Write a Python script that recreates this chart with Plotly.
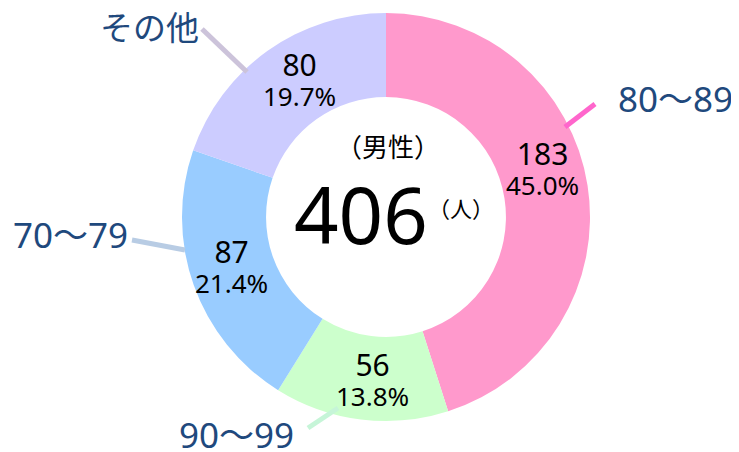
import math
import plotly.graph_objects as go

# ---- data ----
categories = ["80～89", "90～99", "70～79", "その他"]
counts = [183, 56, 87, 80]
pct_labels = ["45.0%", "13.8%", "21.4%", "19.7%"]
total_label = "406"
center_title = "（男性）"
center_unit = "（人）"

# ---- style ----
OFF = 8  # page body margin of the browser
W, H = 739 - OFF, 452 - OFF
CX, CY, R_OUT = 386, 217, 204
HOLE = 0.588
slice_colors = ["#FF99CC", "#CCFFCC", "#99CCFF", "#CCCCFF"]
line_colors = ["#FF66CC", "#C6F5D8", "#B8CCE4", "#CCC3DA"]
label_color = "#1F497D"
FONT = "Noto Sans, Noto Sans CJK JP, sans-serif"
FONT_JP = "Noto Sans CJK JP, sans-serif"

# angular tweak of inside label placement (degrees) and radius
inside_shift = [-8.5, -2.0, 2.0, 3.2]
R_TXT = 163
# outer label placement (page pixels) and leader lines (page pixels)
outer_label_pos = [(675, 98), (236, 434), (70, 234), (149, 28)]
outer_label_size = [35, 35, 35, 33]
leader_lines = [((565, 127), (595, 104)), ((338, 408), (308, 428)),
                ((185, 250), (132, 240)), ((247, 72), (202, 29))]


def px(x):
    return (x - OFF) / W


def py(y):
    return 1 - (y - OFF) / H


fig = go.Figure()
fig.add_trace(go.Pie(
    labels=categories, values=counts, sort=False, direction="clockwise",
    rotation=0, hole=HOLE, textinfo="none", hoverinfo="label+value",
    marker=dict(colors=slice_colors, line=dict(width=0)),
    domain=dict(x=[px(CX - R_OUT), px(CX + R_OUT)],
                y=[py(CY + R_OUT), py(CY - R_OUT)]),
    showlegend=False,
))

annotations = []
shapes = []
total = sum(counts)
cum = 0
for i, (cat, v) in enumerate(zip(categories, counts)):
    mid = (cum + v / 2) / total * 360 + inside_shift[i]
    cum += v
    th = math.radians(mid)
    tx = CX + R_TXT * math.sin(th)
    ty = CY - R_TXT * math.cos(th)
    txt = (f"<span style='font-size:30px'>{v}</span><br>"
           f"<span style='font-size:26px'>{pct_labels[i]}</span>")
    annotations.append(dict(x=px(tx + 1), y=py(ty), xref="paper", yref="paper",
                            text=txt, showarrow=False, xanchor="center", yanchor="middle",
                            align="center",
                            font=dict(family=FONT, size=23, color="#000000")))
    lx, ly = outer_label_pos[i]
    annotations.append(dict(x=px(lx), y=py(ly), xref="paper", yref="paper",
                            text=cat, showarrow=False, xanchor="center", yanchor="middle",
                            font=dict(family=FONT, size=outer_label_size[i], color=label_color)))
    (x0, y0), (x1, y1) = leader_lines[i]
    shapes.append(dict(type="line", xref="paper", yref="paper",
                       x0=px(x0), y0=py(y0), x1=px(x1), y1=py(y1),
                       line=dict(color=line_colors[i], width=5)))

annotations.append(dict(x=px(388), y=py(145), xref="paper", yref="paper",
                        text=center_title, showarrow=False, xanchor="center", yanchor="middle",
                        font=dict(family=FONT_JP, size=26, color="#000000")))
annotations.append(dict(x=px(361), y=py(214), xref="paper", yref="paper",
                        text=total_label, showarrow=False, xanchor="center", yanchor="middle",
                        font=dict(family=FONT, size=78, color="#000000")))
annotations.append(dict(x=px(461), y=py(207), xref="paper", yref="paper",
                        text=center_unit, showarrow=False, xanchor="center", yanchor="middle",
                        font=dict(family=FONT_JP, size=22, color="#000000")))

fig.update_layout(
    width=W, height=H, margin=dict(l=0, r=0, t=0, b=0),
    paper_bgcolor="white", plot_bgcolor="white",
    annotations=annotations, shapes=shapes,
)
fig.write_html("out.html")
